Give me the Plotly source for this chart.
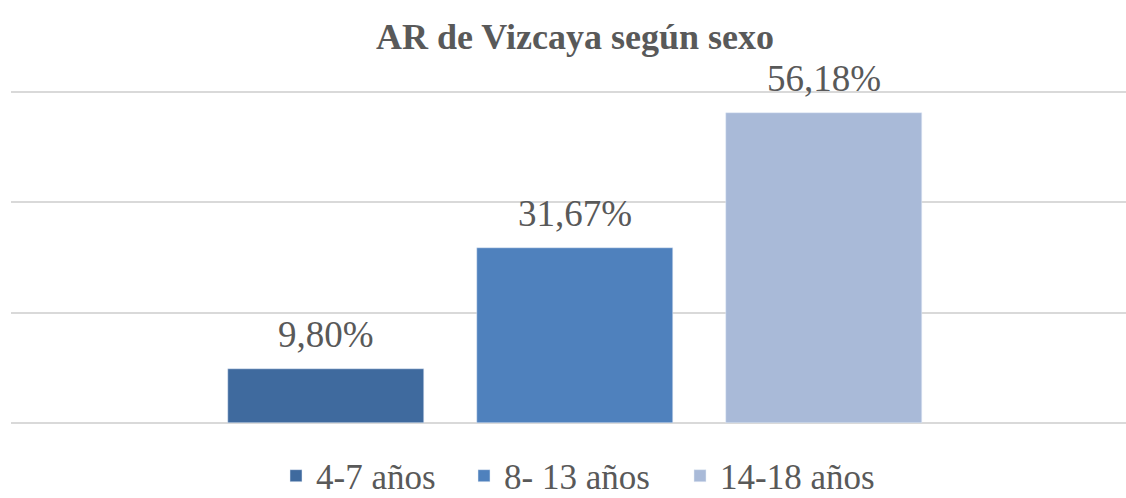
import plotly.graph_objects as go

categories = ["4-7 años", "8- 13 años", "14-18 años"]
values = [9.80, 31.67, 56.18]
colors = ["#3F6A9E", "#4F81BD", "#A9BAD8"]

FONT = "Liberation Serif"
GRAY = "#595959"

legend_names = ["legend", "legend2", "legend3"]
legend_left_px = [276, 464, 680]

fig = go.Figure()
for cat, val, col, lg in zip(categories, values, colors, legend_names):
    fig.add_trace(go.Bar(
        x=[cat], y=[val], name=cat, marker_color=col, width=0.787,
        hoverinfo="skip", legend=lg,
    ))
    fig.add_annotation(
        x=cat, y=val, xref="x", yref="y", text=f"{val:.2f}%".replace(".", ","),
        showarrow=False, yanchor="bottom", xanchor="center", yshift=12,
        font=dict(family=FONT, size=37, color=GRAY),
    )

legend_common = dict(orientation="h", yanchor="middle", y=(423-476)/342.5,
                     xanchor="left", font=dict(family=FONT, size=35, color=GRAY),
                     itemwidth=30, bgcolor="rgba(0,0,0,0)")
legends = {}
for lg, px in zip(legend_names, legend_left_px):
    legends[lg] = dict(legend_common, x=(px - 11)/1115)

fig.update_layout(
    width=1126, height=498,
    barmode="overlay",
    paper_bgcolor="white", plot_bgcolor="white",
    margin=dict(l=11, r=0, t=80.5, b=75, autoexpand=False),
    title=dict(text="<b>AR de Vizcaya según sexo</b>", x=575/1126, xanchor="center",
               y=1 - 36/498, yanchor="middle", yref="container",
               font=dict(family=FONT, size=36, color=GRAY)),
    xaxis=dict(type="category", range=[-1.265, 3.213], showticklabels=False,
               showgrid=False, zeroline=False, showline=False, ticks=""),
    yaxis=dict(range=[0, 62], dtick=20, showticklabels=False, showgrid=True,
               gridcolor="#D9D9D9", gridwidth=2, zeroline=True, zerolinecolor="#D9D9D9",
               zerolinewidth=2, showline=False, ticks=""),
    showlegend=True,
    bargap=0,
    **legends,
)
fig.write_html("out.html", config={"displayModeBar": False},
               post_script="document.body.style.margin='0';document.body.style.overflow='hidden';")
